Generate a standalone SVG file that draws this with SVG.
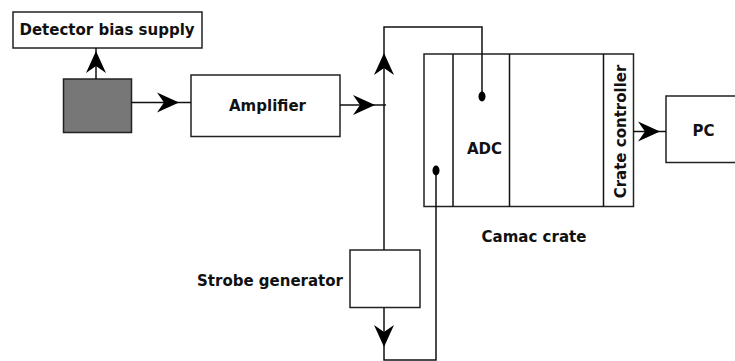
<svg xmlns="http://www.w3.org/2000/svg" xmlns:xlink="http://www.w3.org/1999/xlink" width="735" height="361" viewBox="0 0 735 361">
<style>
.box{fill:#fff;stroke:#222;stroke-width:1.5}
.ln{fill:none;stroke:#111;stroke-width:1.5}
.t{font-family:"DejaVu Sans",Verdana,sans-serif;font-weight:bold;font-size:15px;fill:#111}
.ah{fill:#000}
.dot{fill:#000}
</style>
<defs>
<path id="ah" d="M0,0 L-22,-10 L-15,0 L-22,10 Z"/>
</defs>
<rect width="735" height="361" fill="#fff"/>
<g id="detector-bias">
<rect class="box" x="13" y="12" width="189" height="36"/>
<text class="t" x="107" y="34.5" text-anchor="middle">Detector bias supply</text>
</g>
<g id="detector">
<rect x="63.5" y="79" width="68" height="53.5" fill="#777" stroke="#222" stroke-width="1.5"/>
</g>
<g id="amplifier">
<rect class="box" x="191" y="75" width="149" height="61.5"/>
<text class="t" x="267.5" y="111" text-anchor="middle">Amplifier</text>
</g>
<g id="camac-crate">
<rect class="box" x="424" y="54" width="209.5" height="152.5"/>
<line class="ln" x1="453" y1="54" x2="453" y2="206.5"/>
<line class="ln" x1="509.5" y1="54" x2="509.5" y2="206.5"/>
<line class="ln" x1="603.5" y1="54" x2="603.5" y2="206.5"/>
<text class="t" x="484.5" y="154" text-anchor="middle">ADC</text>
<text class="t" transform="translate(626,131.5) rotate(-90)" text-anchor="middle">Crate controller</text>
<text class="t" x="534" y="241.5" text-anchor="middle">Camac crate</text>
</g>
<g id="pc">
<rect class="box" x="666" y="96" width="75" height="66.5"/>
<text class="t" x="703.5" y="136" text-anchor="middle">PC</text>
</g>
<g id="strobe-generator">
<rect class="box" x="350" y="250" width="70" height="57.5"/>
<text class="t" x="343" y="286" text-anchor="end">Strobe generator</text>
</g>
<g id="connectors">
<line class="ln" x1="96" y1="79" x2="96" y2="48"/>
<use href="#ah" class="ah" transform="translate(96,51) rotate(-90)"/>
<line class="ln" x1="131" y1="102.5" x2="191" y2="102.5"/>
<use href="#ah" class="ah" transform="translate(179,102.5)"/>
<line class="ln" x1="340" y1="105" x2="386" y2="105"/>
<use href="#ah" class="ah" transform="translate(375,105)"/>
<polyline class="ln" points="384,250 384,27 482,27 482,96"/>
<use href="#ah" class="ah" transform="translate(384,53) rotate(-90)"/>
<ellipse class="dot" cx="482" cy="96.5" rx="3.5" ry="5"/>
<polyline class="ln" points="384,308 384,360 436,360 436,171"/>
<use href="#ah" class="ah" transform="translate(384,347) rotate(90)"/>
<ellipse class="dot" cx="436" cy="170.5" rx="3.5" ry="5"/>
<line class="ln" x1="633" y1="131.5" x2="666" y2="131.5"/>
<use href="#ah" class="ah" transform="translate(660,131.5)"/>
</g>
</svg>
